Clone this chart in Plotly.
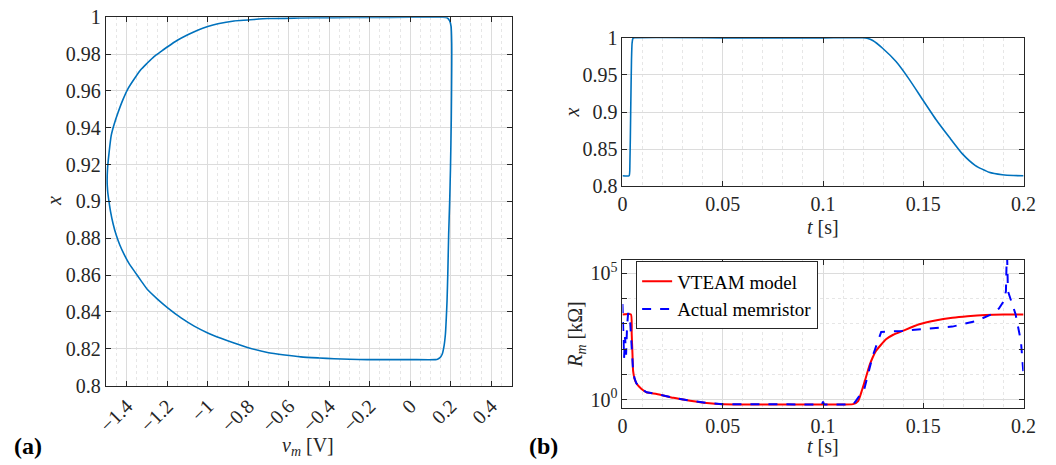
import plotly.graph_objects as go

# ---------------- data ----------------
# (a) x versus v_m loop
vm_a = [0.125, 0.135, 0.146, 0.158, 0.166, 0.174, 0.178, 0.182, 0.186, 0.190, 0.195, 0.199, 0.203,
        0.205, 0.205, 0.202, 0.195, 0.182, 0.158, 0.10, 0.0, -0.2, -0.376, -0.55, -0.705, -0.80,
        -0.87, -0.95, -1.0, -1.05, -1.099, -1.15, -1.198, -1.23, -1.264, -1.30, -1.33, -1.36,
        -1.395, -1.42, -1.444, -1.462, -1.477, -1.488, -1.495, -1.497, -1.496, -1.494, -1.488,
        -1.48, -1.468, -1.453, -1.435, -1.412, -1.39, -1.362, -1.33, -1.297, -1.25, -1.198,
        -1.13, -1.067, -1.0, -0.935, -0.87, -0.804, -0.705, -0.62, -0.54, -0.45, -0.376, -0.3,
        -0.212, -0.1, 0.0, 0.125]
x_a = [0.8141, 0.8143, 0.8150, 0.8170, 0.8207, 0.8280, 0.8360, 0.8460, 0.8620, 0.8820, 0.9000,
       0.9180, 0.9450, 0.9716, 0.9860, 0.9950, 0.9980, 0.9997, 1.0, 1.0, 1.0, 0.9999, 0.9998,
       0.9996, 0.9993, 0.9985, 0.9980, 0.9965, 0.9950, 0.9930, 0.9905, 0.9875, 0.9840, 0.9815,
       0.9788, 0.9750, 0.9716, 0.9670, 0.9610, 0.9550, 0.9480, 0.9420, 0.9357, 0.9260, 0.9180,
       0.9105, 0.9080, 0.9050, 0.9000, 0.8943, 0.8880, 0.8820, 0.8765, 0.8710, 0.8665, 0.8620,
       0.8570, 0.8520, 0.8471, 0.8422, 0.8366, 0.8323, 0.8286, 0.8257, 0.8231, 0.8207, 0.8180,
       0.8166, 0.8156, 0.8150, 0.8146, 0.8143, 0.8141, 0.8141, 0.8141, 0.8141]

# (b) top: x versus t
t_x = [0, 0.0033, 0.0037, 0.0041, 0.0045, 0.0048, 0.0052, 0.006, 0.05, 0.1, 0.1198, 0.122,
       0.1248, 0.1297, 0.1364, 0.143, 0.1496, 0.1563, 0.163, 0.1695, 0.176, 0.1828, 0.1894,
       0.195, 0.2]
x_t = [0.8143, 0.8143, 0.83, 0.90, 0.97, 0.993, 0.999, 1.0, 1.0, 1.0, 1.0, 0.9993, 0.9964,
       0.986, 0.968, 0.944, 0.917, 0.89, 0.866, 0.8437, 0.828, 0.819, 0.8156, 0.8145, 0.8143]

# (b) bottom: resistance in kOhm
t_vteam = [0, 0.0042, 0.0046, 0.0050, 0.0053, 0.0060, 0.0070, 0.0095, 0.012, 0.0171, 0.0254,
           0.0337, 0.042, 0.05, 0.08, 0.1, 0.115, 0.1175, 0.1195, 0.121, 0.1231, 0.1248, 0.1264,
           0.1314, 0.135, 0.1397, 0.148, 0.156, 0.1645, 0.172, 0.181, 0.19, 0.2]
r_vteam = [2350, 2350, 400, 60, 14, 7.0, 4.4, 2.7, 2.0, 1.7, 1.2, 0.93, 0.75, 0.67, 0.66, 0.66,
           0.68, 0.9, 2.5, 6.0, 22, 48, 85, 245, 370, 525, 955, 1350, 1740, 2000, 2240, 2340, 2350]

t_actual = [0, 0.0004, 0.0008, 0.0013, 0.0018, 0.0023, 0.0028, 0.0036, 0.0042, 0.0047, 0.0053,
            0.0060, 0.0070, 0.0095, 0.012, 0.0171, 0.0254, 0.0337, 0.042, 0.05, 0.08, 0.0995,
            0.1, 0.1005, 0.115, 0.1165, 0.1206, 0.1248, 0.129, 0.1397, 0.1645, 0.176, 0.1842,
            0.1877, 0.1902, 0.1912, 0.1917, 0.1922, 0.196, 0.1987, 0.2]
r_actual = [6000, 600, 45, 300, 60, 800, 2500, 2500, 400, 60, 14, 7.0, 4.4, 2.7, 2.0, 1.7, 1.2,
            0.93, 0.75, 0.67, 0.66, 0.66, 0.85, 0.66, 0.66, 0.93, 2.75, 55, 480, 525, 775, 1260,
            2400, 4000, 8000, 19500, 1000000, 19500, 2400, 200, 9]

xa_ticks = [-1.4, -1.2, -1.0, -0.8, -0.6, -0.4, -0.2, 0.0, 0.2, 0.4]
xa_labels = ["\u22121.4", "\u22121.2", "\u22121", "\u22120.8", "\u22120.6", "\u22120.4",
             "\u22120.2", "0", "0.2", "0.4"]
ya_ticks = [0.8, 0.82, 0.84, 0.86, 0.88, 0.9, 0.92, 0.94, 0.96, 0.98, 1.0]
ya_labels = ["0.8", "0.82", "0.84", "0.86", "0.88", "0.9", "0.92", "0.94", "0.96", "0.98", "1"]
t_ticks = [0, 0.05, 0.1, 0.15, 0.2]
t_labels = ["0", "0.05", "0.1", "0.15", "0.2"]
yb_ticks = [0.8, 0.85, 0.9, 0.95, 1.0]
yb_labels = ["0.8", "0.85", "0.9", "0.95", "1"]
r_ticks = [1, 100000]
r_labels = ["10<sup>0</sup>", "10<sup>5</sup>"]
r_minor = [10, 100, 1000, 10000]

# ---------------- figure ----------------
FONT = "Liberation Serif"
AX = "#262626"
W, H = 1056, 465
OFF = 8            # page offset of the plot div
KX, KY = 1.018, 1.042  # compensation for how the page is photographed
TICK_SIZE = 20

fig = go.Figure()
fig.add_trace(go.Scatter(x=vm_a, y=x_a, mode="lines",
                         line=dict(color="#0072BD", width=1.6, shape="spline", smoothing=0.6),
                         xaxis="x", yaxis="y", showlegend=False))
fig.add_trace(go.Scatter(x=t_x, y=x_t, mode="lines",
                         line=dict(color="#0072BD", width=1.6, shape="spline", smoothing=0.5),
                         xaxis="x2", yaxis="y2", showlegend=False))
fig.add_trace(go.Scatter(x=t_vteam, y=r_vteam, mode="lines", name="VTEAM model",
                         line=dict(color="#FF0000", width=2, shape="spline", smoothing=0.5),
                         xaxis="x3", yaxis="y3"))
fig.add_trace(go.Scatter(x=t_actual, y=r_actual, mode="lines", name="Actual memristor",
                         line=dict(color="#0000FF", width=2, dash="dash"), xaxis="x3", yaxis="y3"))


def ax(**kw):
    d = dict(showline=True, linecolor=AX, linewidth=1, mirror="allticks", ticks="inside",
             ticklen=5, tickcolor=AX, showgrid=True, gridcolor="#dcdcdc", gridwidth=1,
             zeroline=False, tickfont=dict(family=FONT, size=TICK_SIZE, color=AX), tickmode="array")
    d.update(kw)
    return d


def px_x(p):
    return (p * KX - OFF) / W


def px_y(p):
    return 1 - (p * KY - OFF) / H


minor_a = dict(dtick=0.05, tick0=0, showgrid=True, gridcolor="#e6e6e6", griddash="dot", ticks="")
minor_t = dict(dtick=0.01, tick0=0, showgrid=True, gridcolor="#e6e6e6", griddash="dot", ticks="")

fig.update_layout(
    width=W, height=H, margin=dict(l=0, r=0, t=0, b=0),
    paper_bgcolor="white", plot_bgcolor="white",
    font=dict(family=FONT, color=AX),
    xaxis=ax(domain=[px_x(104), px_x(511.5)], range=[-1.5035, 0.503], tickvals=xa_ticks,
             ticktext=xa_labels, tickangle=-45, minor=minor_a, anchor="y"),
    yaxis=ax(domain=[px_y(385), px_y(14)], range=[0.8, 1.0], tickvals=ya_ticks,
             ticktext=ya_labels, anchor="x"),
    xaxis2=ax(domain=[px_x(622.3), px_x(1024.7)], range=[0, 0.2], tickvals=t_ticks,
              ticktext=t_labels, minor=minor_t, anchor="y2"),
    yaxis2=ax(domain=[px_y(184.3), px_y(34.7)], range=[0.8, 1.0], tickvals=yb_ticks,
              ticktext=yb_labels, anchor="x2"),
    xaxis3=ax(domain=[px_x(622.3), px_x(1024.7)], range=[0, 0.2], tickvals=t_ticks,
              ticktext=t_labels, minor=minor_t, anchor="y3"),
    yaxis3=ax(domain=[px_y(407.3), px_y(258.3)], type="log", range=[-0.31, 5.525],
              tickvals=r_ticks, ticktext=r_labels, anchor="x3",
              minor=dict(tickmode="array", tickvals=r_minor, showgrid=True, gridcolor="#e6e6e6",
                         griddash="dot", ticks="inside", ticklen=5, tickcolor=AX)),
    legend=dict(x=px_x(636), y=px_y(260), xanchor="left", yanchor="top",
                font=dict(family=FONT, size=19, color="black"), bgcolor="white",
                bordercolor=AX, borderwidth=1, tracegroupgap=0, itemwidth=30),
    showlegend=True,
)

ann = [
    dict(text="<i>x</i>", x=px_x(52), y=px_y(199), textangle=-90, size=20),
    dict(text="<i>v</i><sub><i>m</i></sub> [V]", x=px_x(307), y=px_y(446), textangle=0, size=20),
    dict(text="<i>x</i>", x=px_x(571.5), y=px_y(110), textangle=-90, size=20),
    dict(text="<i>t</i> [s]", x=px_x(823), y=px_y(225), textangle=0, size=20),
    dict(text="<i>R</i><sub><i>m</i></sub> [k\u03a9]", x=px_x(576.5), y=px_y(333), textangle=-90, size=20),
    dict(text="<i>t</i> [s]", x=px_x(823), y=px_y(446), textangle=0, size=20),
    dict(text="<b>(a)</b>", x=px_x(26), y=px_y(446), textangle=0, size=24),
    dict(text="<b>(b)</b>", x=px_x(543), y=px_y(446), textangle=0, size=24),
]
for a in ann:
    fig.add_annotation(text=a["text"], x=a["x"], y=a["y"], xref="paper", yref="paper",
                       xanchor="center", yanchor="middle", showarrow=False,
                       textangle=a["textangle"],
                       font=dict(family=FONT, size=a["size"], color="black" if "(" in a["text"] else AX))

fig.write_html("out.html")
